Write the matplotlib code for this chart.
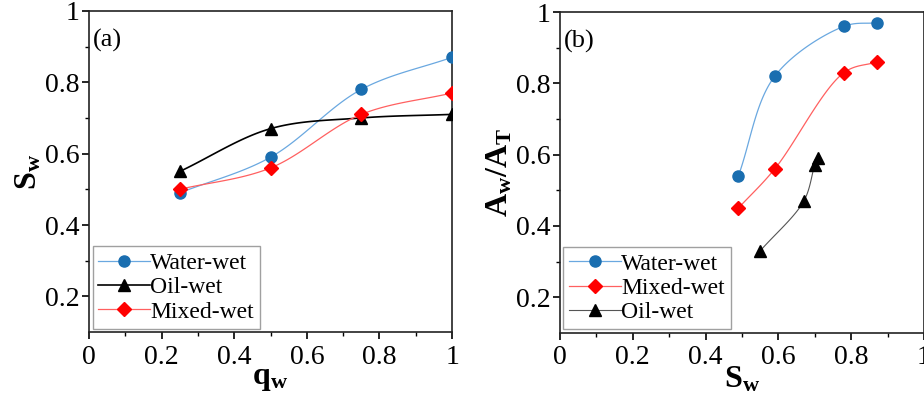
import numpy as np
import matplotlib.pyplot as plt

# (a) S_w vs q_w
q_w = [0.25, 0.5, 0.75, 1.0]
sw_water = [0.49, 0.59, 0.78, 0.87]
sw_oil = [0.55, 0.67, 0.70, 0.71]
sw_mixed = [0.50, 0.56, 0.71, 0.77]

# (b) A_w/A_T vs S_w
aw_water = [0.54, 0.82, 0.96, 0.97]
aw_mixed = [0.45, 0.56, 0.83, 0.86]
aw_oil = [0.33, 0.47, 0.57, 0.59]

plt.rcParams['font.family'] = ['Liberation Serif', 'DejaVu Serif']
plt.rcParams['mathtext.fontset'] = 'custom'
plt.rcParams['mathtext.rm'] = 'Liberation Serif'
plt.rcParams['mathtext.bf'] = 'Liberation Serif:bold'
plt.rcParams['mathtext.it'] = 'Liberation Serif:italic'


def smooth(x, y, n=40):
    # centripetal Catmull-Rom curve through the points (only for drawing the line)
    p = np.column_stack([x, y]).astype(float)
    p = np.vstack([2 * p[0] - p[1], p, 2 * p[-1] - p[-2]])
    out = []
    for i in range(1, len(p) - 2):
        p0, p1, p2, p3 = p[i - 1], p[i], p[i + 1], p[i + 2]
        t0 = 0.0
        t1 = t0 + np.linalg.norm(p1 - p0) ** 0.5
        t2 = t1 + np.linalg.norm(p2 - p1) ** 0.5
        t3 = t2 + np.linalg.norm(p3 - p2) ** 0.5
        t = np.linspace(t1, t2, n)[:, None]
        a1 = (t1 - t) / (t1 - t0) * p0 + (t - t0) / (t1 - t0) * p1
        a2 = (t2 - t) / (t2 - t1) * p1 + (t - t1) / (t2 - t1) * p2
        a3 = (t3 - t) / (t3 - t2) * p2 + (t - t2) / (t3 - t2) * p3
        b1 = (t2 - t) / (t2 - t0) * a1 + (t - t0) / (t2 - t0) * a2
        b2 = (t3 - t) / (t3 - t1) * a2 + (t - t1) / (t3 - t1) * a3
        c = (t2 - t) / (t2 - t1) * b1 + (t - t1) / (t2 - t1) * b2
        out.append(c)
    c = np.vstack(out)
    return c[:, 0], c[:, 1]


def series(ax, x, y, line_c, mk_c, marker, ms, lw, label):
    sx, sy = smooth(x, y)
    ax.plot(sx, sy, color=line_c, lw=lw, zorder=2)
    ax.plot(x, y, ls='none', marker=marker, ms=ms, color=mk_c, zorder=3)
    # legend handle
    ax.plot([], [], color=line_c, lw=lw, marker=marker, ms=ms,
            mfc=mk_c, mec=mk_c, label=label)


def style(ax):
    ax.set_xlim(0, 1)
    ax.set_ylim(0.1, 1)
    ax.set_xticks([0, 0.2, 0.4, 0.6, 0.8, 1])
    ax.set_xticklabels(['0', '0.2', '0.4', '0.6', '0.8', '1'])
    ax.set_yticks([0.2, 0.4, 0.6, 0.8, 1])
    ax.set_yticklabels(['0.2', '0.4', '0.6', '0.8', '1'])
    ax.set_xticks(np.arange(0.1, 1.0, 0.2), minor=True)
    ax.set_yticks([0.3, 0.5, 0.7, 0.9], minor=True)
    ax.tick_params(which='major', direction='out', length=5, width=1.2,
                   labelsize=20, colors='black')
    ax.tick_params(which='minor', direction='out', length=3, width=1.0)
    ax.tick_params(axis='x', pad=4)
    ax.tick_params(axis='y', pad=2)
    for s in ax.spines.values():
        s.set_linewidth(1.2)
        s.set_color('#222222')


fig = plt.figure(figsize=(9.24, 4.03), dpi=100)
ax1 = fig.add_axes([0.0963, 0.176, 0.393, 0.797])
ax2 = fig.add_axes([0.606, 0.174, 0.394, 0.796])

blue_m = '#1a6eb0'
blue_l = '#6aa8e0'
red_l = '#ff6060'

series(ax1, q_w, sw_water, blue_l, blue_m, 'o', 8, 0.9, 'Water-wet')
series(ax1, q_w, sw_oil, 'black', 'black', '^', 8, 1.2, 'Oil-wet')
series(ax1, q_w, sw_mixed, red_l, 'red', 'D', 7, 0.9, 'Mixed-wet')
style(ax1)
ax1.set_xlabel(r'$\mathbf{q_w}$', fontsize=23, labelpad=-4)
ax1.set_ylabel(r'$\mathbf{S_w}$', fontsize=23, labelpad=1)
ax1.text(0.01, 0.945, '(a)', transform=ax1.transAxes, fontsize=19, va='top')

series(ax2, sw_water, aw_water, blue_l, blue_m, 'o', 8, 0.9, 'Water-wet')
series(ax2, sw_water, aw_mixed, red_l, 'red', 'D', 7, 0.9, 'Mixed-wet')
series(ax2, sw_oil, aw_oil, '#555555', 'black', '^', 8, 0.8, 'Oil-wet')
style(ax2)
ax2.set_xlabel(r'$\mathbf{S_w}$', fontsize=23, labelpad=-4)
ax2.set_ylabel(r'$\mathbf{A_w/A_T}$', fontsize=23, labelpad=1)
ax2.text(0.01, 0.945, '(b)', transform=ax2.transAxes, fontsize=19, va='top')

for ax in (ax1, ax2):
    leg = ax.legend(loc='lower left', fontsize=17, frameon=True, fancybox=False,
                    borderpad=0.25, handlelength=2.2, handletextpad=0.0,
                    labelspacing=0.12, borderaxespad=0.15)
    leg.get_frame().set_edgecolor('#888888')
    leg.get_frame().set_linewidth(1.0)

fig.savefig('out.png', dpi=100)
